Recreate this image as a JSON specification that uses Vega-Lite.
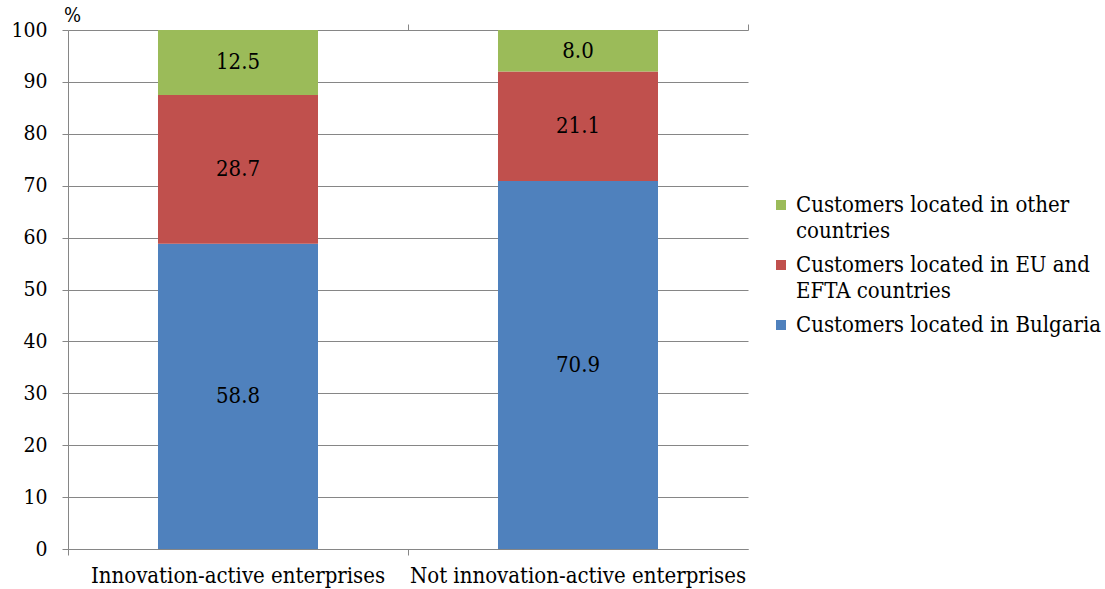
{
  "$schema": "https://vega.github.io/schema/vega-lite/v6.json",
  "autosize": "none",
  "width": 680,
  "height": 519,
  "padding": {"left": 68, "top": 30, "right": 357, "bottom": 40},
  "background": "white",
  "config": {
    "font": "DejaVu Serif Condensed",
    "view": {"stroke": null},
    "style": {"guide-label": {"lineHeight": 26}}
  },
  "data": {
    "values": [
      {"group": "Innovation-active enterprises", "series": "Customers located in Bulgaria", "value": 58.8},
      {"group": "Innovation-active enterprises", "series": "Customers located in EU and EFTA countries", "value": 28.7},
      {"group": "Innovation-active enterprises", "series": "Customers located in other countries", "value": 12.5},
      {"group": "Not innovation-active enterprises", "series": "Customers located in Bulgaria", "value": 70.9},
      {"group": "Not innovation-active enterprises", "series": "Customers located in EU and EFTA countries", "value": 21.1},
      {"group": "Not innovation-active enterprises", "series": "Customers located in other countries", "value": 8.0}
    ]
  },
  "transform": [
    {"stack": "value", "groupby": ["group"], "sort": [{"field": "series", "order": "ascending"}], "as": ["y0", "y1"]},
    {"calculate": "(datum.y0 + datum.y1) / 2", "as": "ymid"}
  ],
  "encoding": {
    "x": {
      "field": "group",
      "type": "nominal",
      "sort": null,
      "scale": {"paddingInner": 0, "paddingOuter": 0},
      "title": null
    }
  },
  "layer": [
    {
      "mark": {"type": "bar", "width": {"band": 0.4706}},
      "encoding": {
        "x": {
          "field": "group",
          "type": "nominal",
          "sort": null,
          "title": null,
          "axis": {
            "bandPosition": 0,
            "labelAngle": 0,
            "labelFont": "DejaVu Serif Condensed",
            "labelFontSize": 22,
            "labelColor": "#000000",
            "labelPadding": 10,
            "labelAlign": "center",
            "labelLimit": 500,
            "domainColor": "#868686",
            "tickColor": "#868686",
            "tickSize": 6,
            "grid": false
          }
        },
        "y": {
          "field": "y0",
          "type": "quantitative",
          "scale": {"domain": [0, 100], "nice": false},
          "title": "%",
          "axis": {
            "values": [0, 10, 20, 30, 40, 50, 60, 70, 80, 90, 100],
            "labelFont": "DejaVu Serif Condensed",
            "labelFontSize": 21,
            "labelColor": "#000000",
            "labelPadding": 15,
            "domainColor": "#868686",
            "tickColor": "#868686",
            "tickSize": 6,
            "gridColor": "#868686",
            "gridWidth": 1,
            "titleAngle": 0,
            "titleFont": "DejaVu Serif Condensed",
            "titleFontSize": 20,
            "titleFontWeight": "normal",
            "titleColor": "#000000",
            "titleAlign": "center",
            "titleBaseline": "middle",
            "titleX": 4,
            "titleY": -15
          }
        },
        "y2": {"field": "y1"},
        "color": {
          "field": "series",
          "type": "nominal",
          "scale": {
            "domain": [
              "Customers located in other countries",
              "Customers located in EU and EFTA countries",
              "Customers located in Bulgaria"
            ],
            "range": ["#9BBB59", "#C0504D", "#4F81BD"]
          },
          "legend": {
            "title": null,
            "orient": "none",
            "legendX": 702,
            "legendY": 164,
            "symbolType": "square",
            "symbolSize": 100,
            "symbolStrokeWidth": 0,
            "labelFont": "DejaVu Serif Condensed",
            "labelFontSize": 22,
            "labelColor": "#000000",
            "labelBaseline": "middle",
            "labelOffset": 4,
            "labelLimit": 400,
            "rowPadding": 12,
            "labelExpr": "datum.label == 'Customers located in other countries' ? ['Customers located in other', 'countries'] : datum.label == 'Customers located in EU and EFTA countries' ? ['Customers located in EU and', 'EFTA countries'] : datum.label"
          }
        }
      }
    },
    {
      "mark": {"type": "text", "font": "DejaVu Serif Condensed", "fontSize": 22, "color": "#000000", "baseline": "middle", "align": "center"},
      "encoding": {
        "x": {
          "field": "group",
          "type": "nominal",
          "sort": null,
          "axis": {
            "bandPosition": 1,
            "labels": false,
            "domain": false,
            "grid": false,
            "tickColor": "#868686",
            "tickSize": 6,
            "title": null
          }
        },
        "y": {"field": "ymid", "type": "quantitative"},
        "text": {"field": "value", "type": "quantitative", "format": ".1f"}
      }
    }
  ],
  "resolve": {"axis": {"x": "independent"}}
}
